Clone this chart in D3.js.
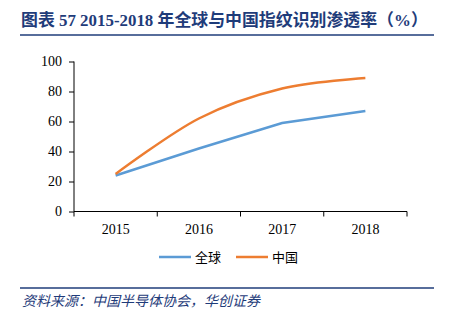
<!DOCTYPE html>
<html>
<head>
<meta charset="utf-8">
<script src="https://cdn.jsdelivr.net/npm/d3@7"></script>
<style>
  body { margin: 0; background: #fff; }
  svg { display: block; }
  .axis text { font-family: 'Liberation Serif', 'Times New Roman', serif; font-size: 14px; fill: #000; }
</style>
</head>
<body>
<svg width="450" height="323"></svg>
<script>
// penetration rate, %
let years = ["2015", "2016", "2017", "2018"];
let globalRate = [24, 42, 59, 67];
let chinaRate = [25, 62, 82, 89];
let seriesNames = ["全球", "中国"];
let seriesColors = ["#5b9bd5", "#ed7d31"];
let yTicks = [0, 20, 40, 60, 80, 100];

let svg = d3.select("svg");
let navy = "#1f3c7a";
let serif = "'Liberation Serif', 'Times New Roman', 'Noto Sans CJK SC', serif";

// title and rules
svg.append("text")
    .attr("x", 21)
    .attr("y", 26)
    .attr("fill", navy)
    .attr("font-family", serif)
    .attr("font-weight", "bold")
    .attr("font-size", 16.9)
    .text("图表 57 2015-2018 年全球与中国指纹识别渗透率（%）");

svg.append("line")
    .attr("x1", 20).attr("x2", 434)
    .attr("y1", 35).attr("y2", 35)
    .attr("stroke", navy).attr("stroke-width", 1.5);

svg.append("line")
    .attr("x1", 20).attr("x2", 434)
    .attr("y1", 288).attr("y2", 288)
    .attr("stroke", navy).attr("stroke-width", 1.5);

svg.append("text")
    .attr("x", 22)
    .attr("y", 306)
    .attr("fill", navy)
    .attr("font-family", "'Noto Sans CJK SC', sans-serif")
    .attr("font-style", "italic")
    .attr("font-size", 14)
    .text("资料来源：中国半导体协会，华创证券");

// plot area
let x = d3.scaleBand().domain(years).range([74, 407]);
let y = d3.scaleLinear().domain([0, 100]).range([211.5, 61.5]);

let g = svg.append("g");

let yAxis = g.append("g")
    .attr("class", "axis")
    .attr("transform", "translate(74,0)")
    .call(d3.axisLeft(y).tickValues(yTicks).tickSize(5).tickPadding(7));

let xAxis = g.append("g")
    .attr("class", "axis")
    .attr("transform", "translate(0,211.5)")
    .call(d3.axisBottom(x).tickSize(5).tickPadding(8));

// ticks sit on band boundaries, not band centres
xAxis.selectAll(".tick line").remove();
xAxis.selectAll("line.edge")
    .data(years.map(d => x(d)).concat([x.range()[1]]))
    .join("line")
    .attr("class", "edge")
    .attr("x1", d => d).attr("x2", d => d)
    .attr("y1", 0).attr("y2", 5)
    .attr("stroke", "#000");

yAxis.select(".domain").attr("stroke", "#000").attr("d", "M0,61.5V211.5");
xAxis.select(".domain").attr("stroke", "#000").attr("d", "M74,0H407");
yAxis.selectAll(".tick line").attr("stroke", "#000");

let px = (d, i) => x(years[i]) + x.bandwidth() / 2;
let curves = [d3.curveLinear, d3.curveCardinal.tension(0)];

[globalRate, chinaRate].forEach((values, i) => {
    let line = d3.line().x(px).y(d => y(d)).curve(curves[i]);
    g.append("path")
        .datum(values)
        .attr("d", line)
        .attr("fill", "none")
        .attr("stroke", seriesColors[i])
        .attr("stroke-width", 2.5);
});

// legend
let legend = svg.append("g").attr("transform", "translate(159,257)");
let items = legend.selectAll("g")
    .data(seriesNames)
    .join("g")
    .attr("transform", (d, i) => "translate(" + (i * 77) + ",0)");

items.append("line")
    .attr("x1", 0).attr("x2", 32)
    .attr("stroke", (d, i) => seriesColors[i])
    .attr("stroke-width", 2.5);

items.append("text")
    .attr("x", 36)
    .attr("y", 5)
    .attr("font-family", "'Noto Sans CJK SC', sans-serif")
    .attr("font-size", 13)
    .attr("fill", "#000")
    .text(d => d);
</script>
</body>
</html>
